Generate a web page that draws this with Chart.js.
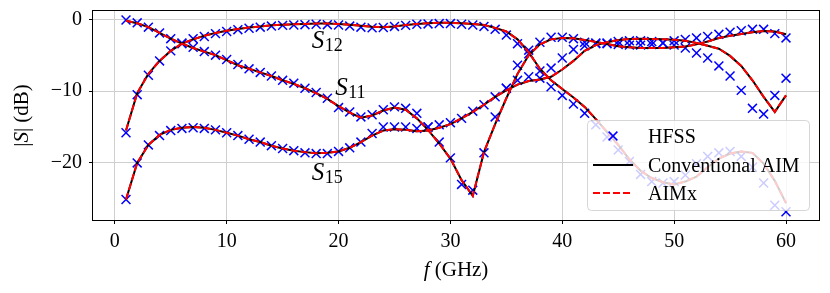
<!DOCTYPE html>
<html><head><meta charset="utf-8">
<script src="https://cdn.jsdelivr.net/npm/chart.js@4.4.0/dist/chart.umd.min.js"></script>
<style>html,body{margin:0;padding:0;background:#fff}#wrap{width:830px;height:293px;position:relative}</style>
</head><body><div id="wrap"><canvas id="c" width="830" height="293"></canvas></div>
<script>
const freq = [1,2,3,4,5,6,7,8,9,10,11,12,13,14,15,16,17,18,19,20,21,22,23,24,25,26,27,28,29,30,
  31,32,33,34,35,36,37,38,39,40,41,42,43,44,45,46,47,48,49,50,51,52,53,54,55,56,57,58,59,60];

const hfssS11 = [-0.1,-0.5,-1.1,-1.9,-2.7,-3.3,-3.9,-4.5,-5.0,-5.6,-6.3,-6.9,-7.4,-7.9,-8.5,-8.9,-9.6,-10.2,-11.0,-12.3,
  -12.9,-13.6,-13.3,-12.6,-12.2,-12.4,-13.1,-15.0,-17.1,-19.3,-23.0,-23.8,-18.6,-13.6,-9.6,-6.4,-4.3,-3.2,-2.5,-2.5,
  -2.7,-3.2,-3.3,-3.4,-3.5,-3.6,-3.6,-3.5,-3.3,-3.0,-2.8,-2.6,-2.4,-2.1,-1.8,-1.6,-1.4,-1.4,-2.0,-2.6];
const hfssS12 = [-15.8,-10.5,-7.8,-5.8,-4.4,-3.4,-2.7,-2.4,-2.0,-1.7,-1.45,-1.25,-1.1,-0.95,-0.85,-0.8,-0.75,-0.7,-0.75,-0.8,
  -0.95,-1.1,-1.2,-1.15,-1.0,-0.85,-0.7,-0.65,-0.6,-0.6,-0.7,-0.8,-1.0,-1.4,-2.2,-3.4,-4.8,-7.2,-9.4,-10.6,
  -11.8,-13.1,-14.7,-16.4,-18.2,-19.8,-21.6,-22.6,-22.8,-22.6,-21.7,-20.1,-19.1,-18.6,-18.4,-19.1,-20.6,-22.8,-25.9,-26.8];
const hfssS15 = [-25.1,-20.0,-17.5,-16.2,-15.5,-15.2,-15.1,-15.2,-15.4,-15.8,-16.2,-16.7,-17.1,-17.6,-18.0,-18.3,-18.6,-18.7,-18.7,-18.4,
  -17.9,-17.1,-15.9,-15.0,-15.0,-15.0,-15.2,-15.0,-14.7,-14.4,-13.8,-12.8,-11.9,-10.8,-9.6,-8.5,-8.0,-8.2,-6.8,-5.4,
  -4.2,-3.7,-3.4,-3.3,-3.1,-3.0,-3.0,-3.1,-3.3,-3.6,-4.0,-4.7,-5.4,-6.5,-7.9,-9.9,-12.4,-13.2,-10.6,-8.2];

const convS11 = [-0.2,-0.55,-1.1,-1.9,-2.7,-3.4,-4.0,-4.5,-5.0,-5.7,-6.4,-6.9,-7.4,-7.9,-8.5,-9.0,-9.6,-10.3,-11.1,-12.1,
  -13.0,-13.7,-13.4,-12.7,-12.3,-12.6,-13.8,-15.4,-17.3,-19.4,-22.4,-24.6,-18.5,-14.6,-11.0,-7.6,-5.0,-3.5,-2.8,-2.6,
  -2.65,-2.9,-3.15,-3.45,-3.75,-3.9,-4.0,-4.0,-4.0,-3.9,-3.8,-3.5,-3.1,-2.6,-2.3,-2.05,-1.8,-1.65,-1.7,-2.1];
const convS12 = [-15.5,-10.3,-7.6,-5.8,-4.4,-3.4,-2.8,-2.3,-1.9,-1.6,-1.35,-1.15,-1.0,-0.85,-0.75,-0.7,-0.65,-0.6,-0.6,-0.65,
  -0.75,-0.9,-1.05,-1.1,-1.0,-0.8,-0.65,-0.55,-0.5,-0.5,-0.55,-0.65,-0.8,-1.2,-1.7,-2.8,-4.6,-6.9,-8.5,-9.7,
  -10.9,-12.2,-13.9,-15.7,-17.5,-19.5,-21.1,-22.1,-22.7,-23.0,-22.6,-21.9,-20.6,-19.4,-18.7,-18.4,-18.6,-20.1,-22.5,-25.6];
const convS15 = [-25.1,-20.0,-17.5,-16.1,-15.4,-15.1,-15.0,-15.1,-15.4,-15.8,-16.2,-16.7,-17.1,-17.6,-18.0,-18.3,-18.5,-18.65,-18.6,-18.4,
  -17.9,-17.1,-16.2,-15.5,-15.3,-15.4,-15.6,-15.5,-15.1,-14.6,-13.8,-12.9,-11.9,-10.8,-9.9,-9.1,-8.6,-8.4,-8.0,-7.0,
  -5.8,-4.4,-3.6,-3.2,-2.9,-2.75,-2.7,-2.75,-2.8,-2.85,-3.0,-3.3,-3.7,-4.1,-5.1,-6.5,-8.5,-10.8,-12.9,-10.6];

const aimxS11 = [-0.2,-0.55,-1.1,-1.9,-2.7,-3.4,-4.0,-4.5,-5.0,-5.7,-6.4,-6.9,-7.4,-7.9,-8.5,-9.0,-9.6,-10.3,-11.1,-12.1,
  -13.0,-13.7,-13.4,-12.7,-12.3,-12.6,-13.8,-15.4,-17.3,-19.4,-22.4,-24.6,-18.5,-14.6,-11.0,-7.6,-5.0,-3.5,-2.8,-2.6,
  -2.65,-2.9,-3.15,-3.45,-3.75,-3.9,-4.0,-4.0,-4.0,-3.9,-3.8,-3.5,-3.1,-2.6,-2.3,-2.05,-1.8,-1.65,-1.7,-2.1];
const aimxS12 = [-15.5,-10.3,-7.6,-5.8,-4.4,-3.4,-2.8,-2.3,-1.9,-1.6,-1.35,-1.15,-1.0,-0.85,-0.75,-0.7,-0.65,-0.6,-0.6,-0.65,
  -0.75,-0.9,-1.05,-1.1,-1.0,-0.8,-0.65,-0.55,-0.5,-0.5,-0.55,-0.65,-0.8,-1.2,-1.7,-2.8,-4.6,-6.9,-8.5,-9.7,
  -10.9,-12.2,-13.9,-15.7,-17.5,-19.5,-21.1,-22.1,-22.7,-23.0,-22.6,-21.9,-20.6,-19.4,-18.7,-18.4,-18.6,-20.1,-22.5,-25.6];
const aimxS15 = [-25.1,-20.0,-17.5,-16.1,-15.4,-15.1,-15.0,-15.1,-15.4,-15.8,-16.2,-16.7,-17.1,-17.6,-18.0,-18.3,-18.5,-18.65,-18.6,-18.4,
  -17.9,-17.1,-16.2,-15.5,-15.3,-15.4,-15.6,-15.5,-15.1,-14.6,-13.8,-12.9,-11.9,-10.8,-9.9,-9.1,-8.6,-8.4,-8.0,-7.0,
  -5.8,-4.4,-3.6,-3.2,-2.9,-2.75,-2.7,-2.75,-2.8,-2.85,-3.0,-3.3,-3.7,-4.1,-5.1,-6.5,-8.5,-10.8,-12.9,-10.6];

const xTicks = [0,10,20,30,40,50,60];
const yTicks = [-20,-10,0];
const legendLabels = ['HFSS','Conventional AIM','AIMx'];
const curveLabels = [
  {name:'S', sub:'12', f:17.6, db:-4.0},
  {name:'S', sub:'11', f:19.7, db:-10.5},
  {name:'S', sub:'15', f:17.6, db:-22.4}
];

const SERIF = '"Liberation Serif","Times New Roman",serif';
function pts(ys){ return freq.map((f,i)=>({x:f, y:ys[i]})); }

function aimxDs(ys){ return {label:'AIMx', data:pts(ys), borderColor:'#ff0000', borderWidth:2, borderDash:[7,3],
  pointRadius:0, fill:false, tension:0}; }
function convDs(ys){ return {label:'Conventional AIM', data:pts(ys), borderColor:'#000000', borderWidth:2,
  pointRadius:0, fill:false, tension:0}; }
function hfssDs(ys){ return {label:'HFSS', data:pts(ys), showLine:false, pointStyle:'crossRot', pointRadius:6.3,
  borderColor:'#0000ff', pointBorderColor:'#0000ff', pointBorderWidth:1.5, backgroundColor:'#0000ff'}; }

const datasets = [
  aimxDs(aimxS11), aimxDs(aimxS12), aimxDs(aimxS15),
  convDs(convS11), convDs(convS12), convDs(convS15),
  hfssDs(hfssS11), hfssDs(hfssS12), hfssDs(hfssS15)
];

function drawPieces(ctx, pieces, x, y){
  let w = 0;
  pieces.forEach(p=>{ ctx.font = p.font; w += ctx.measureText(p.t).width; });
  let cx = x - w/2;
  pieces.forEach(p=>{ ctx.font = p.font; ctx.fillText(p.t, cx, y); cx += ctx.measureText(p.t).width; });
}

const overlay = {
  id:'overlay',
  afterDraw(chart){
    const ctx = chart.ctx, a = chart.chartArea;
    const xs = chart.scales.x, ys = chart.scales.y;
    ctx.save();
    // frame
    ctx.strokeStyle = '#000'; ctx.lineWidth = 1;
    ctx.strokeRect(Math.round(a.left)-0.5, Math.round(a.top)-0.5, Math.round(a.right)-Math.round(a.left)+1, Math.round(a.bottom)-Math.round(a.top)+1);

    // curve labels
    ctx.fillStyle = '#000'; ctx.textBaseline = 'alphabetic'; ctx.textAlign = 'left';
    curveLabels.forEach(c=>{
      const px = xs.getPixelForValue(c.f), py = ys.getPixelForValue(c.db);
      ctx.font = 'italic 25px ' + SERIF;
      ctx.fillText(c.name, px, py);
      const w = ctx.measureText(c.name).width;
      ctx.font = '18px ' + SERIF;
      ctx.fillText(c.sub, px + w + 0.5, py + 3);
    });

    // axis titles
    ctx.textBaseline = 'middle'; ctx.textAlign = 'left';
    const N = '21px ' + SERIF, I = 'italic 21px ' + SERIF;
    drawPieces(ctx, [{t:'f', font:I}, {t:' (GHz)', font:N}], (a.left+a.right)/2, 270);
    ctx.save();
    ctx.translate(22, (a.top+a.bottom)/2);
    ctx.rotate(-Math.PI/2);
    drawPieces(ctx, [{t:'|', font:N}, {t:'S', font:I}, {t:'| (dB)', font:N}], 0, 0);
    ctx.restore();

    // legend
    const L = 587, T = 120, R = 809, B = 210;
    ctx.beginPath();
    if (ctx.roundRect) ctx.roundRect(L+0.5, T+0.5, R-L, B-T, 4); else ctx.rect(L+0.5, T+0.5, R-L, B-T);
    ctx.fillStyle = 'rgba(255,255,255,0.8)'; ctx.fill();
    ctx.strokeStyle = 'rgba(204,204,204,0.8)'; ctx.lineWidth = 1; ctx.stroke();
    const rows = [136, 165, 193];
    ctx.strokeStyle = '#0000ff'; ctx.lineWidth = 1.5;
    ctx.beginPath(); const m = 4.4, mx = 613, my = rows[0];
    ctx.moveTo(mx-m,my-m); ctx.lineTo(mx+m,my+m); ctx.moveTo(mx-m,my+m); ctx.lineTo(mx+m,my-m); ctx.stroke();
    ctx.strokeStyle = '#000'; ctx.lineWidth = 2;
    ctx.beginPath(); ctx.moveTo(593, rows[1]); ctx.lineTo(633, rows[1]); ctx.stroke();
    ctx.strokeStyle = '#ff0000'; ctx.setLineDash([7,3]);
    ctx.beginPath(); ctx.moveTo(593, rows[2]); ctx.lineTo(633, rows[2]); ctx.stroke();
    ctx.setLineDash([]);
    ctx.fillStyle = '#000'; ctx.font = '20px ' + SERIF; ctx.textBaseline = 'alphabetic';
    const base = [142.7, 171.7, 200];
    legendLabels.forEach((t,i)=> ctx.fillText(t, 648, base[i]));
    ctx.restore();
  }
};

function fmt(v){ return v < 0 ? '\u2212' + Math.abs(v) : String(v); }
function zeroPad(s){ s.paddingTop = 0; s.paddingBottom = 0; s.paddingLeft = 0; s.paddingRight = 0; }

new Chart(document.getElementById('c'), {
  type:'line',
  data:{ datasets },
  options:{
    responsive:false, animation:false, devicePixelRatio:1,
    layout:{ padding:{ top:11, right:11, left:0, bottom:0 } },
    plugins:{ legend:{display:false}, tooltip:{enabled:false} },
    scales:{
      x:{ type:'linear', min:-1.95, max:62.95,
        afterBuildTicks(s){ s.ticks = xTicks.map(v=>({value:v})); },
        afterFit(s){ s.height = 73; zeroPad(s); },
        grid:{ color:'#cfcfcf', lineWidth:1, tickColor:'#000', tickLength:4, tickWidth:1 },
        border:{ display:false },
        ticks:{ color:'#000', font:{family:SERIF, size:20}, padding:6, maxRotation:0, autoSkip:false,
          callback:(v)=>fmt(v) }
      },
      y:{ type:'linear', min:-27.95, max:1.15,
        afterBuildTicks(s){ s.ticks = yTicks.map(v=>({value:v})); },
        afterFit(s){ s.width = 93; zeroPad(s); },
        grid:{ color:'#cfcfcf', lineWidth:1, tickColor:'#000', tickLength:4, tickWidth:1 },
        border:{ display:false },
        ticks:{ color:'#000', font:{family:SERIF, size:20}, padding:7, autoSkip:false,
          callback:(v)=>fmt(v) }
      }
    }
  },
  plugins:[overlay]
});
</script>
</body></html>
